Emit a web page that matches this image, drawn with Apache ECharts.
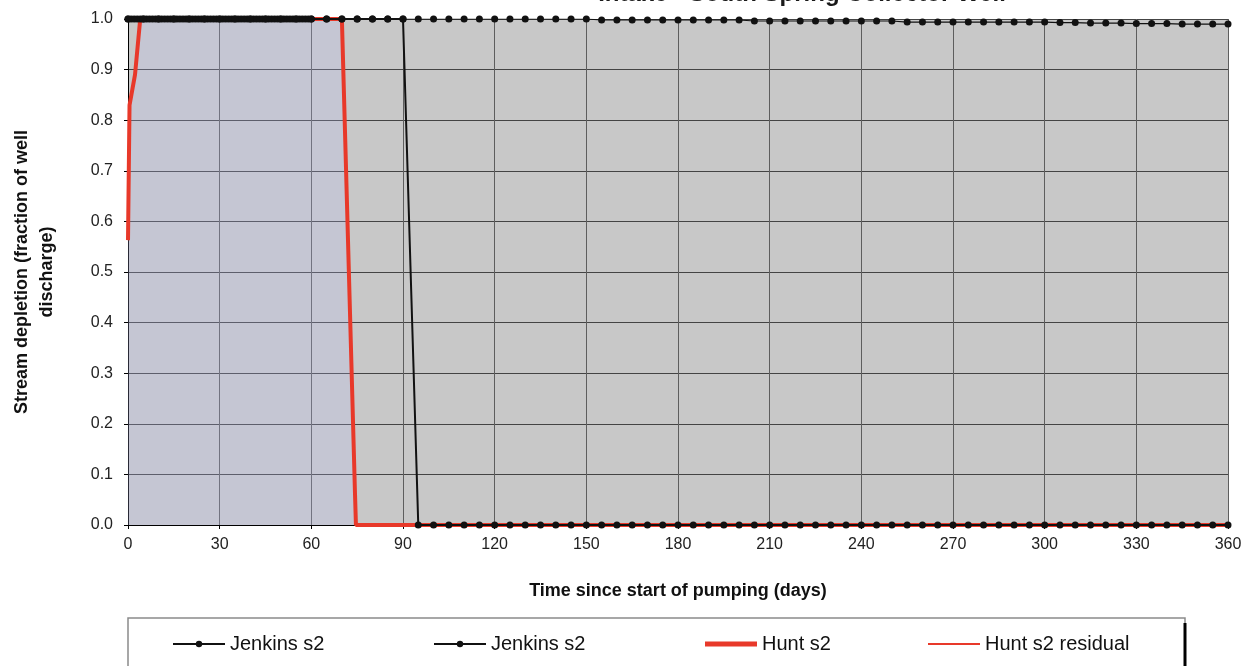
<!DOCTYPE html>
<html>
<head>
<meta charset="utf-8">
<script src="https://cdn.jsdelivr.net/npm/echarts@6/dist/echarts.min.js"></script>
<style>
html, body { margin: 0; padding: 0; background: #fff; }
#chart { width: 1252px; height: 666px; }
</style>
</head>
<body>
<div id="chart"></div>
<script>
// time steps (days) and depletion fractions
const jenkinsDaysA = [0, 1, 2, 3, 4, 5, 6, 7, 8, 9, 10, 11, 12, 13, 14, 15, 16, 17, 18, 19, 20,
    21, 22, 23, 24, 25, 26, 27, 28, 29, 30, 31, 32, 33, 34, 35, 36, 37, 38, 39, 40,
    41, 42, 43, 44, 45, 46, 47, 48, 49, 50, 51, 52, 53, 54, 55, 56, 57, 58, 59, 60,
    65, 70, 75, 80, 85, 90, 95, 100, 105, 110, 115, 120, 125, 130, 135, 140, 145, 150,
    155, 160, 165, 170, 175, 180, 185, 190, 195, 200, 205, 210, 215, 220, 225, 230, 235, 240, 245, 250,
    255, 260, 265, 270, 275, 280, 285, 290, 295, 300, 305, 310, 315, 320, 325, 330, 335, 340, 345, 350, 355, 360]
const jenkinsValuesA = [1, 1, 1, 1, 1, 1, 1, 1, 1, 1, 1, 1, 1, 1, 1, 1, 1, 1, 1, 1, 1,
    1, 1, 1, 1, 1, 1, 1, 1, 1, 1, 1, 1, 1, 1, 1, 1, 1, 1, 1, 1,
    1, 1, 1, 1, 1, 1, 1, 1, 1, 1, 1, 1, 1, 1, 1, 1, 1, 1, 1, 1,
    1, 1, 1, 1, 1, 1, 1, 1, 1, 1, 1, 1, 1, 1, 1, 1, 1, 1,
    0.998, 0.998, 0.998, 0.998, 0.998, 0.998, 0.998, 0.998, 0.998, 0.998,
    0.996, 0.996, 0.996, 0.996, 0.996, 0.996, 0.996, 0.996, 0.996, 0.996,
    0.994, 0.994, 0.994, 0.994, 0.994, 0.994, 0.994, 0.994, 0.994, 0.994,
    0.993, 0.993, 0.992, 0.992, 0.992, 0.991, 0.991, 0.991, 0.99, 0.99, 0.99, 0.99]

const jenkinsDaysB = [0, 5, 10, 15, 20, 25, 30, 35, 40, 45, 50, 55, 60, 65, 70, 75, 80, 85, 90,
    95, 100, 105, 110, 115, 120, 125, 130, 135, 140, 145, 150, 155, 160, 165, 170, 175, 180,
    185, 190, 195, 200, 205, 210, 215, 220, 225, 230, 235, 240, 245, 250, 255, 260, 265, 270,
    275, 280, 285, 290, 295, 300, 305, 310, 315, 320, 325, 330, 335, 340, 345, 350, 355, 360]
const jenkinsValuesB = [1, 1, 1, 1, 1, 1, 1, 1, 1, 1, 1, 1, 1, 1, 1, 1, 1, 1, 1,
    0, 0, 0, 0, 0, 0, 0, 0, 0, 0, 0, 0, 0, 0, 0, 0, 0, 0,
    0, 0, 0, 0, 0, 0, 0, 0, 0, 0, 0, 0, 0, 0, 0, 0, 0, 0,
    0, 0, 0, 0, 0, 0, 0, 0, 0, 0, 0, 0, 0, 0, 0, 0, 0, 0]

const huntDays = [0, 0.5, 2.3, 4, 70, 74.3, 74.6, 360]
const huntValues = [0.563, 0.83, 0.89, 1, 1, 0.06, 0, 0]
const huntResidualDays = [0, 0.5, 2.3, 4, 70, 74.3, 74.6, 360]
const huntResidualValues = [0.563, 0.83, 0.89, 1, 1, 0.06, 0, 0]

const xTicks = [0, 30, 60, 90, 120, 150, 180, 210, 240, 270, 300, 330, 360]
const yTicks = [0, 0.1, 0.2, 0.3, 0.4, 0.5, 0.6, 0.7, 0.8, 0.9, 1.0]

const pairs = (xs, ys) => xs.map((x, i) => [x, ys[i]])

const chart = echarts.init(document.getElementById('chart'))
const font = "'Liberation Sans', Arial, sans-serif"

const legendBase = {
    orient: 'horizontal',
    top: 634,
    padding: 0,
    itemGap: 0,
    itemWidth: 52,
    itemHeight: 8,
    selectedMode: false,
    textStyle: { fontSize: 20, color: '#111', fontFamily: font }
}

let option = {
    backgroundColor: '#fff',
    animation: false,
    graphic: [
        {
            type: 'text',
            x: 802,
            y: 6,
            style: {
                text: 'Intake - South Spring Collector Well',
                font: 'bold 24px ' + font,
                fill: '#1a1a1a',
                textAlign: 'center',
                textVerticalAlign: 'bottom'
            }
        },
        {
            type: 'rect',
            z: 0,
            shape: { x: 128, y: 618, width: 1057, height: 70 },
            style: { fill: '#fff', stroke: '#8a8a8a', lineWidth: 1.5 }
        },
        {
            type: 'line',
            z: 1,
            shape: { x1: 1185, y1: 623, x2: 1185, y2: 666 },
            style: { stroke: '#000', lineWidth: 3 }
        }
    ],
    legend: [
        Object.assign({}, legendBase, { left: 172, data: ['Jenkins s2'] }),
        Object.assign({}, legendBase, { left: 433, data: ['Jenkins s2 '] }),
        Object.assign({}, legendBase, { left: 705, itemHeight: 5, data: [{ name: 'Hunt s2', icon: 'rect' }] }),
        Object.assign({}, legendBase, { left: 928, itemHeight: 2, data: [{ name: 'Hunt s2 residual', icon: 'rect' }] })
    ],
    grid: {
        left: 128,
        right: 24,
        top: 19,
        bottom: 141,
        outerBoundsMode: 'none',
        containLabel: false,
        show: true,
        backgroundColor: '#c8c8c8',
        borderWidth: 0
    },
    xAxis: {
        type: 'value',
        min: xTicks[0],
        max: xTicks[xTicks.length - 1],
        interval: 30,
        name: 'Time since start of pumping (days)',
        nameLocation: 'middle',
        nameGap: 57,
        nameTextStyle: { fontSize: 18, fontWeight: 'bold', color: '#111', fontFamily: font },
        axisLine: { show: true, onZero: false, lineStyle: { color: '#000', width: 1 } },
        axisTick: { show: true, length: 4, lineStyle: { color: '#000' } },
        axisLabel: { fontSize: 16, color: '#222', margin: 12, fontFamily: font },
        splitLine: { show: true, lineStyle: { color: '#5e5e5e', width: 1 } }
    },
    yAxis: {
        type: 'value',
        min: yTicks[0],
        max: yTicks[yTicks.length - 1],
        interval: 0.1,
        name: 'Stream depletion (fraction of well\ndischarge)',
        nameLocation: 'middle',
        nameGap: 68,
        nameTextStyle: { fontSize: 18, fontWeight: 'bold', color: '#111', lineHeight: 25, fontFamily: font },
        axisLine: { show: true, lineStyle: { color: '#000', width: 1 } },
        axisTick: { show: true, length: 4, lineStyle: { color: '#000' } },
        axisLabel: {
            fontSize: 16,
            color: '#222',
            margin: 15,
            fontFamily: font,
            formatter: v => v.toFixed(1)
        },
        splitLine: { show: true, lineStyle: { color: '#444', width: 1 } }
    },
    series: [
        {
            name: 'Hunt s2',
            type: 'line',
            z: 2,
            data: pairs(huntDays, huntValues),
            showSymbol: false,
            symbol: 'none',
            lineStyle: { color: '#e8392a', width: 4 },
            itemStyle: { color: '#e8392a' },
            areaStyle: { color: 'rgba(190, 192, 255, 0.3)' }
        },
        {
            name: 'Hunt s2 residual',
            type: 'line',
            z: 2,
            data: pairs(huntResidualDays, huntResidualValues),
            showSymbol: false,
            symbol: 'none',
            lineStyle: { color: '#e8392a', width: 2 },
            itemStyle: { color: '#e8392a' }
        },
        {
            name: 'Jenkins s2',
            type: 'line',
            z: 3,
            data: pairs(jenkinsDaysA, jenkinsValuesA),
            symbol: 'circle',
            symbolSize: 7,
            showAllSymbol: true,
            lineStyle: { color: '#111', width: 1.2 },
            itemStyle: { color: '#111' }
        },
        {
            name: 'Jenkins s2 ',
            type: 'line',
            z: 4,
            data: pairs(jenkinsDaysB, jenkinsValuesB),
            symbol: 'circle',
            symbolSize: 7,
            showAllSymbol: true,
            lineStyle: { color: '#111', width: 2 },
            itemStyle: { color: '#111' }
        }
    ]
}
chart.setOption(option)
</script>
</body>
</html>
